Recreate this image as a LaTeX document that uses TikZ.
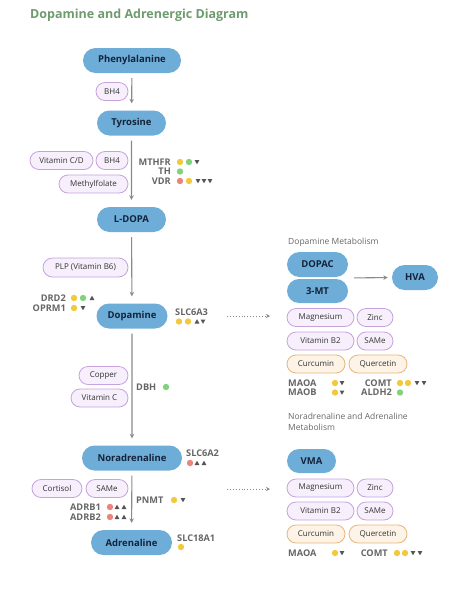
\documentclass[tikz,border=0pt]{standalone}
\usepackage{fontspec}
\setmainfont{Open Sans}
\usetikzlibrary{shapes.misc,arrows.meta}

\definecolor{molblue}{HTML}{6EADD8}
\definecolor{molink}{HTML}{14233A}
\definecolor{cofline}{HTML}{C6A2DE}
\definecolor{coffill}{HTML}{F7F0FC}
\definecolor{herbline}{HTML}{E9B57A}
\definecolor{herbfill}{HTML}{FDF3E7}
\definecolor{flowgray}{HTML}{8A8A8A}
\definecolor{genegray}{HTML}{666666}
\definecolor{titlegreen}{HTML}{6E9B6E}
\definecolor{dotY}{HTML}{F2C93C}
\definecolor{dotG}{HTML}{82D27C}
\definecolor{dotR}{HTML}{EA847C}
\definecolor{triG}{HTML}{555555}

\tikzset{
  mol/.style={rounded rectangle, fill=molblue, text=molink, inner sep=0,
    minimum height=25, font=\fontsize{9.5}{11}\selectfont\bfseries},
  cof/.style={rounded rectangle, draw=cofline, fill=coffill, line width=0.8,
    inner sep=0, minimum height=18, text=black!80, font=\fontsize{8}{9}\selectfont},
  herb/.style={cof, draw=herbline, fill=herbfill},
  gene/.style={inner sep=0, text=genegray, font=\fontsize{9.2}{9}\selectfont\bfseries},
  flow/.style={draw=flowgray, line width=1.1, -{Stealth[length=4.5,width=4.5]}},
  leak/.style={draw=flowgray, line width=0.9, dotted, -{Stealth[length=4,width=4]}},
  ydot/.pic={\fill[dotY] (0,0) circle (3.2);},
  gdot/.pic={\fill[dotG] (0,0) circle (3.2);},
  rdot/.pic={\fill[dotR] (0,0) circle (3.2);},
  tup/.pic={\fill[triG] (-2.4,2) -- (2.4,2) -- (0,-2.3) -- cycle;},
  tdn/.pic={\fill[triG] (-2.4,-2) -- (2.4,-2) -- (0,2.3) -- cycle;}
}

\begin{document}
\begin{tikzpicture}[x=1pt, y=-1pt]
  \useasboundingbox (0,0) rectangle (465,600);

  \node[anchor=base west, inner sep=0, text=titlegreen,
    font=\fontsize{12.5}{14}\selectfont\bfseries] (title) at (30,18)
    {Dopamine and Adrenergic Diagram};

  % main pathway
  \node[mol, minimum width=98] (phe) at (132,60.5) {Phenylalanine};
  \node[mol, minimum width=69] (tyr) at (131.5,123) {Tyrosine};
  \node[mol, minimum width=69] (ldopa) at (131.5,219.5) {L-DOPA};
  \node[mol, minimum width=71] (dop) at (132,316) {Dopamine};
  \node[mol, minimum width=100] (nor) at (132,458) {Noradrenaline};
  \node[mol, minimum width=81] (adr) at (131.5,542.5) {Adrenaline};

  \draw[flow, shorten <=5, shorten >=7] (phe) -- (tyr);
  \draw[flow, shorten <=5, shorten >=7] (tyr) -- (ldopa);
  \draw[flow, shorten <=5, shorten >=7] (ldopa) -- (dop);
  \draw[flow, shorten <=5, shorten >=7] (dop) -- (nor);
  \draw[flow, shorten <=5, shorten >=7] (nor) -- (adr);

  % cofactors
  \node[cof, minimum width=32] (bh4a) at (112,91.5) {BH4};
  \node[cof, minimum width=63] (vitcd) at (61.5,160.5) {Vitamin C/D};
  \node[cof, minimum width=32] (bh4b) at (112,160.5) {BH4};
  \node[cof, minimum width=69] (mfol) at (93.5,184) {Methylfolate};
  \node[cof, minimum width=85, minimum height=19] (plp) at (85.5,267.5) {PLP (Vitamin B6)};
  \node[cof, minimum width=49] (cu) at (103.5,375.5) {Copper};
  \node[cof, minimum width=57] (vitc) at (99.5,398) {Vitamin C};
  \node[cof, minimum width=50] (cort) at (57,488.5) {Cortisol};
  \node[cof, minimum width=42] (same) at (107,488.5) {SAMe};

  % genes
  \node[gene, anchor=east] (mthfr) at (171,162) {MTHFR};
  \node[gene, anchor=east] (th) at (171,171.5) {TH};
  \node[gene, anchor=east] (vdr) at (171,181) {VDR};
  \node[gene, anchor=east] (drd2) at (66,298) {DRD2};
  \node[gene, anchor=east] (oprm1) at (66,308) {OPRM1};
  \node[gene, anchor=west] (slc6a3) at (175,312) {SLC6A3};
  \node[gene, anchor=west] (dbh) at (136,387) {DBH};
  \node[gene, anchor=west] (slc6a2) at (186,453) {SLC6A2};
  \node[gene, anchor=west] (pnmt) at (136,500) {PNMT};
  \node[gene, anchor=east] (adrb1) at (101,507) {ADRB1};
  \node[gene, anchor=east] (adrb2) at (101,517) {ADRB2};
  \node[gene, anchor=west] (slc18a1) at (177,538) {SLC18A1};

  \foreach \p/\m in {180/ydot,189/gdot,197/tdn} \pic at (\p,162) {\m};
  \pic at (180,171.5) {gdot};
  \foreach \p/\m in {180/rdot,189/ydot,198/tdn,204/tdn,210/tdn} \pic at (\p,181) {\m};
  \foreach \p/\m in {74/ydot,83/gdot,92/tup} \pic at (\p,298) {\m};
  \foreach \p/\m in {74/ydot,83/tdn} \pic at (\p,308) {\m};
  \foreach \p/\m in {179/ydot,188/ydot,197/tup,203/tdn} \pic at (\p,321.5) {\m};
  \pic at (166,387) {gdot};
  \foreach \p/\m in {190/rdot,197/tup,204/tup} \pic at (\p,463) {\m};
  \foreach \p/\m in {174/ydot,183/tdn} \pic at (\p,500) {\m};
  \foreach \p/\m in {110/rdot,117/tup,124/tup} \pic at (\p,507) {\m};
  \foreach \p/\m in {110/rdot,117/tup,124/tup} \pic at (\p,517) {\m};
  \pic at (181,547) {ydot};

  % dopamine metabolism
  \coordinate (leak1a) at (227,316);
  \coordinate (leak1b) at (270,316);
  \draw[leak] (leak1a) -- (leak1b);

  \node[anchor=base west, inner sep=0, text=genegray, font=\fontsize{8.5}{11}\selectfont]
    (dmet) at (288,244) {Dopamine Metabolism};
  \node[mol, minimum width=61] (dopac) at (317.5,264.5) {DOPAC};
  \node[mol, minimum width=61, minimum height=24] (mt) at (317.5,291) {3-MT};
  \node[mol, minimum width=46] (hva) at (415,277.5) {HVA};
  \coordinate (dm) at (348,278);
  \draw[flow, shorten <=6, shorten >=4] (dm) -- (hva.west);

  \node[cof, minimum width=67] (mg1) at (320.5,317.5) {Magnesium};
  \node[cof, minimum width=36] (zn1) at (375,317.5) {Zinc};
  \node[cof, minimum width=67] (b21) at (320.5,341) {Vitamin B2};
  \node[cof, minimum width=36] (sam1) at (375,341) {SAMe};
  \node[herb, minimum width=58] (cur1) at (316,364) {Curcumin};
  \node[herb, minimum width=58] (que1) at (378,364) {Quercetin};

  \node[gene, anchor=west] (maoa1) at (288,383) {MAOA};
  \node[gene, anchor=west] (maob) at (288,392.5) {MAOB};
  \node[gene, anchor=east] (comt1) at (392,383) {COMT};
  \node[gene, anchor=east] (aldh2) at (392,392.5) {ALDH2};
  \foreach \p/\m in {335/ydot,342/tdn} \pic at (\p,383) {\m};
  \foreach \p/\m in {335/ydot,342/tdn} \pic at (\p,392.5) {\m};
  \foreach \p/\m in {400/ydot,408/ydot,417/tdn,424/tdn} \pic at (\p,383) {\m};
  \pic at (400,392.5) {gdot};

  % noradrenaline and adrenaline metabolism
  \coordinate (leak2a) at (227,489);
  \coordinate (leak2b) at (270,489);
  \draw[leak] (leak2a) -- (leak2b);

  \node[anchor=base west, inner sep=0, align=left, text=genegray, font=\fontsize{8.5}{11}\selectfont]
    (nmet) at (288,430) {Noradrenaline and Adrenaline\\Metabolism};
  \node[mol, minimum width=49, minimum height=24] (vma) at (311.5,461) {VMA};

  \node[cof, minimum width=67] (mg2) at (320.5,488) {Magnesium};
  \node[cof, minimum width=36] (zn2) at (375,488) {Zinc};
  \node[cof, minimum width=67] (b22) at (320.5,511) {Vitamin B2};
  \node[cof, minimum width=36] (sam2) at (375,511) {SAMe};
  \node[herb, minimum width=58] (cur2) at (316,534) {Curcumin};
  \node[herb, minimum width=58] (que2) at (378,534) {Quercetin};

  \node[gene, anchor=west] (maoa2) at (288,553) {MAOA};
  \node[gene, anchor=east] (comt2) at (388,553) {COMT};
  \foreach \p/\m in {335/ydot,342/tdn} \pic at (\p,553) {\m};
  \foreach \p/\m in {397/ydot,405/ydot,413/tdn,420/tdn} \pic at (\p,553) {\m};

\end{tikzpicture}
\end{document}
